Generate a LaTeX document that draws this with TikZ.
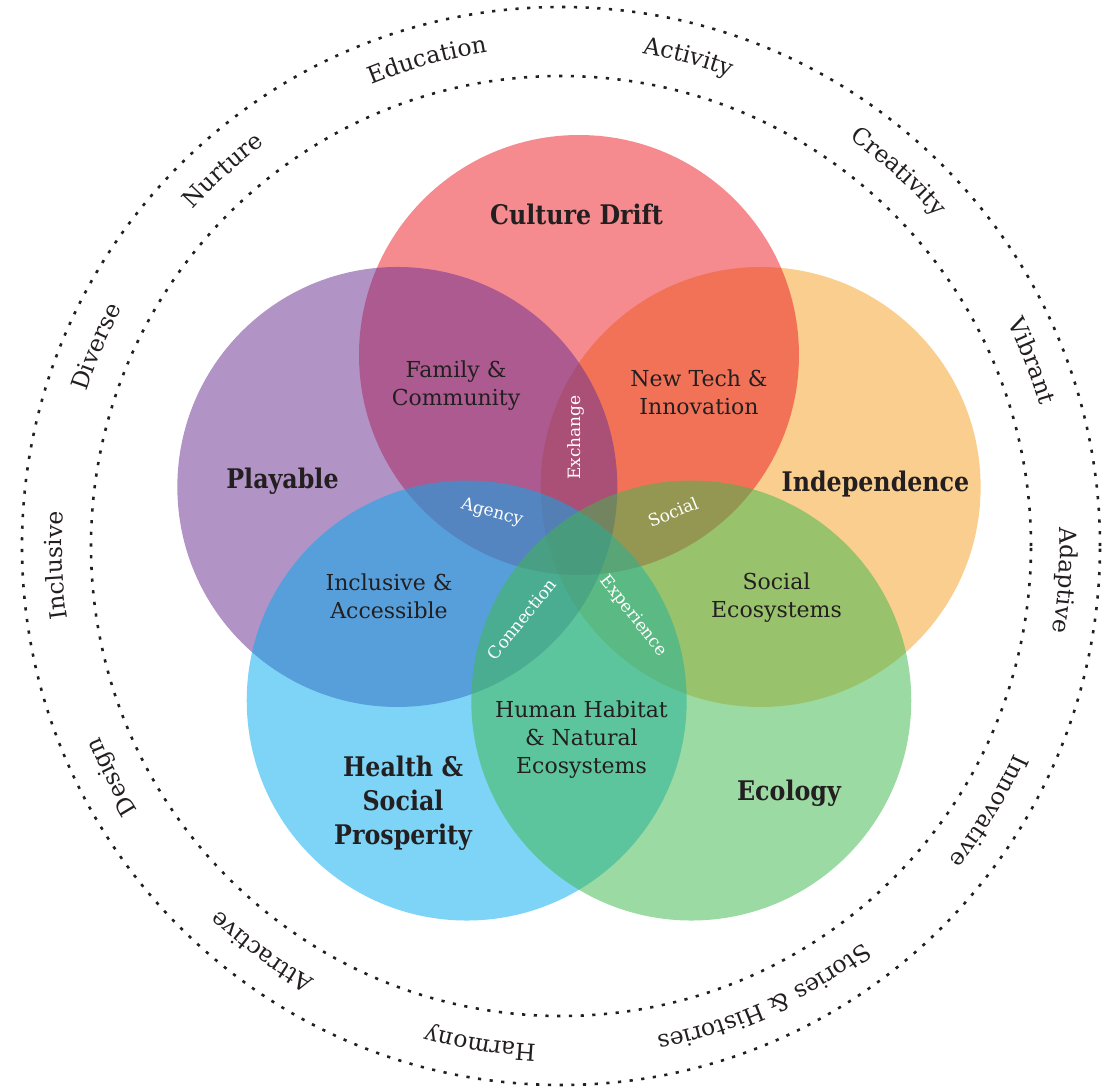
\documentclass[tikz,border=0pt]{standalone}
\usepackage{fontspec}
\setmainfont{DejaVu Serif}
\newfontfamily\headfont{DejaVu Serif}[FakeStretch=0.88]
\usetikzlibrary{decorations.text}

\definecolor{ink}{HTML}{231F20}
\definecolor{cOrange}{HTML}{F5A126}
\definecolor{cRed}{HTML}{EC2028}
\definecolor{cPurple}{HTML}{692F91}
\definecolor{cBlue}{HTML}{07ACEE}
\definecolor{cGreen}{HTML}{3FB84C}
\newcommand\ringfont{\fontsize{23.5}{28}\selectfont\color{ink}}

\begin{document}
\begin{tikzpicture}[x=1pt,y=1pt,
  petal/.style={fill opacity=0.52, draw=none},
  title/.style={font=\headfont\bfseries\fontsize{27}{34}\selectfont, text=ink, align=center, inner sep=0pt},
  lbl/.style={font=\fontsize{22}{28}\selectfont, text=ink, align=center, inner sep=0pt},
  lens/.style={font=\fontsize{17}{20}\selectfont, text=white, inner sep=0pt},
  dotring/.style={draw=ink, line width=2.6pt, dash pattern=on 3.2pt off 8.5pt},
  ringword/.style={decorate, decoration={text along path, text align=center, text={|\ringfont|#1}}}
]
\useasboundingbox (-561,-544) rectangle (542,546);

% centres of the outer rings and of the five circles
\coordinate (O) at (0,0);
\coordinate (V) at (18,0);
\coordinate (cRedC)    at ([shift={(V)}] 90:191);
\coordinate (cOrangeC) at ([shift={(V)}] 18:191);
\coordinate (cPurpleC) at ([shift={(V)}] 162:191);
\coordinate (cBlueC)   at ([shift={(V)}] 234:191);
\coordinate (cGreenC)  at ([shift={(V)}] 306:191);

% translucent circles, bottom to top
\fill[petal, cOrange] (cOrangeC) circle[radius=220];
\fill[petal, cRed]    (cRedC)    circle[radius=220];
\fill[petal, cPurple] (cPurpleC) circle[radius=220];
\fill[petal, cBlue]   (cBlueC)   circle[radius=220];
\fill[petal, cGreen]  (cGreenC)  circle[radius=220];

% main themes
\node[title, anchor=base] (tCulture) at (15.5,321) {Culture Drift};
\node[title, anchor=base] (tIndep)   at (314.5,55) {Independence};
\node[title, anchor=base] (tPlay)    at (-278.5,58) {Playable};
\node[title, anchor=base] (tEco)     at (228,-254.5) {Ecology};
\node[title] (tHealth) at (-158,-257) {Health \&\\Social\\Prosperity};

% pairwise overlaps
\node[lbl] (lFamily)  at (-105,160) {Family \&\\Community};
\node[lbl] (lTech)    at (138,154)  {New Tech \&\\Innovation};
\node[lbl] (lIncl)    at (-172,-50) {Inclusive \&\\Accessible};
\node[lbl] (lSocEco)  at (215.5,-52) {Social\\Ecosystems};
\node[lbl] (lHabitat) at (20.5,-194) {Human Habitat\\\& Natural\\Ecosystems};

% triple overlaps
\node[lens, rotate=90]  (wExchange)   at (15,108.5) {Exchange};
\node[lens, rotate=-15] (wAgency)     at (-69,33)   {Agency};
\node[lens, rotate=22]  (wSocial)     at (112,34)   {Social};
\node[lens, rotate=51]  (wConnection) at (-39,-73)  {Connection};
\node[lens, rotate=-52] (wExperience) at (72,-70)   {Experience};

% dotted rings
\draw[dotring] (O) circle[radius=539];
\draw[dotring] (O) circle[radius=470];

% words set along the ring, read clockwise
\path[ringword={Education}]  (150.4:499) arc[start angle=150.4, end angle=60.4, radius=499];
\path[ringword={Activity}]   (120.4:499) arc[start angle=120.4, end angle=30.4, radius=499];
\path[ringword={Creativity}] (93:499)    arc[start angle=93,    end angle=3,    radius=499];
\path[ringword={Vibrant}]    (66.5:499)  arc[start angle=66.5,  end angle=-23.5, radius=499];
\path[ringword={Adaptive}]   (41.1:499)  arc[start angle=41.1,  end angle=-48.9, radius=499];
\path[ringword={Innovative}] (13.2:499)  arc[start angle=13.2,  end angle=-76.8, radius=499];
\path[ringword={Stories {\&} Histories}] (-20.8:499) arc[start angle=-20.8, end angle=-110.8, radius=499];
\path[ringword={Harmony}]    (-54.2:499) arc[start angle=-54.2, end angle=-144.2, radius=499];
\path[ringword={Attractive}] (-81.4:499) arc[start angle=-81.4, end angle=-171.4, radius=499];
\path[ringword={Design}]     (-107.8:499) arc[start angle=-107.8, end angle=-197.8, radius=499];
\path[ringword={Inclusive}]  (227.2:499) arc[start angle=227.2, end angle=137.2, radius=499];
\path[ringword={Diverse}]    (201.8:499) arc[start angle=201.8, end angle=111.8, radius=499];
\path[ringword={Nurture}]    (177:499)   arc[start angle=177,   end angle=87,   radius=499];
\end{tikzpicture}
\end{document}
